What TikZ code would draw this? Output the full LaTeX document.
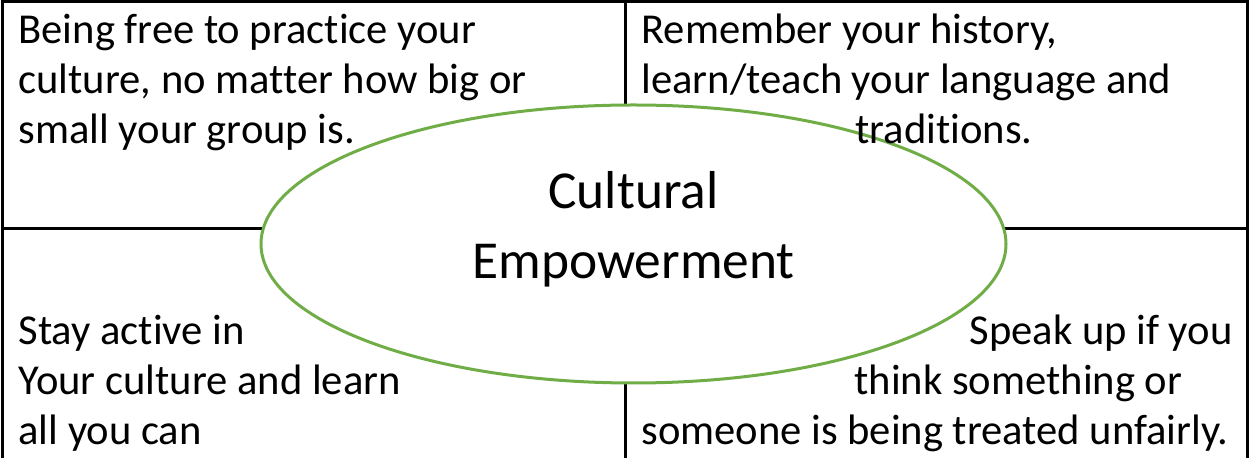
\documentclass[tikz,border=0pt]{standalone}
\usepackage{fontspec}
\setmainfont[Ligatures=NoCommon]{Carlito}
\usetikzlibrary{shapes.geometric}
\definecolor{leafgreen}{HTML}{70AD47}

\begin{document}
\begin{tikzpicture}[x=0.5pt, y=-0.5pt, line width=1.5pt,
  cell/.style={anchor=base west, inner sep=0pt, font=\fontsize{21.3}{25}\selectfont},
  hub/.style={ellipse, draw=leafgreen, fill=white, minimum width=372.5pt, minimum height=139pt, inner sep=0pt}]

  \useasboundingbox (0,0) rectangle (1249,458);

  % grid of four cells
  \coordinate (tl) at (2,2);
  \coordinate (tr) at (1247,2);
  \coordinate (bl) at (2,458);
  \coordinate (br) at (1247,458);
  \coordinate (tm) at (625,2);
  \coordinate (bm) at (625,458);
  \coordinate (ml) at (2,229);
  \coordinate (mr) at (1247,229);
  \draw (bl) -- (tl) -- (tr) -- (br);
  \draw (tm) -- (bm);
  \draw (ml) -- (mr);

  % centre
  \node (hub) [hub] at (633.5,244) {};
  \node (c1) [anchor=base, inner sep=0pt, font=\fontsize{26.7}{35}\selectfont] at (633.5,209) {Cultural};
  \node (c2) [anchor=base, inner sep=0pt, font=\fontsize{26.7}{35}\selectfont] at (633.5,279) {Empowerment};

  % top left
  \node (a1) [cell] at (17,44) {Being free to practice your};
  \node (a2) [cell] at (17,94) {culture, no matter how big or};
  \node (a3) [cell] at (17,144) {small your group is.};

  % top right
  \node (b1) [cell] at (640,44) {Remember your history,};
  \node (b2) [cell] at (640,94) {learn/teach your language and};
  \node (b3) [cell] at (854,144) {traditions.};

  % bottom left
  \node (d1) [cell] at (17,345) {Stay active in};
  \node (d2) [cell] at (17,395) {Your culture and learn};
  \node (d3) [cell] at (17,445) {all you can};

  % bottom right
  \node (e1) [cell] at (968,345) {Speak up if you};
  \node (e2) [cell] at (853,395) {think something or};
  \node (e3) [cell] at (640,445) {someone is being treated unfairly.};

\end{tikzpicture}
\end{document}
